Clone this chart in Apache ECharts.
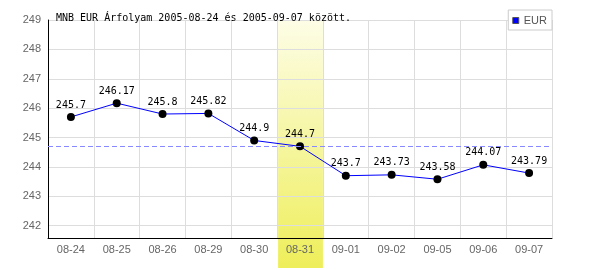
<!DOCTYPE html>
<html>
<head>
<meta charset="utf-8">
<script src="https://cdn.jsdelivr.net/npm/echarts@6/dist/echarts.min.js"></script>
<style>html,body{margin:0;padding:0;background:#fff}#c{width:600px;height:270px}</style>
</head>
<body>
<div id="c"></div>
<script>
const titleText = 'MNB EUR Árfolyam 2005-08-24 és 2005-09-07 között.';
const categories = ['08-24','08-25','08-26','08-29','08-30','08-31','09-01','09-02','09-05','09-06','09-07'];
const eurValues = [245.7, 246.17, 245.8, 245.82, 244.9, 244.7, 243.7, 243.73, 243.58, 244.07, 243.79];
const yTicks = [242, 243, 244, 245, 246, 247, 248, 249];
const refLineValue = 244.7;
const highlightCategory = '08-31';
const yMin = 241.58, yMax = 249;

const chart = echarts.init(document.getElementById('c'), null, {renderer: 'canvas'});
const option = {
  animation: false,
  backgroundColor: '#fff',
  title: {
    text: titleText, left: 51, top: 8,
    textStyle: {fontFamily: 'DejaVu Sans Mono', fontSize: 10, fontWeight: 'normal', color: '#000'}
  },
  legend: {
    data: [{name: 'EUR', icon: 'rect'}],
    right: 48, top: 10,
    backgroundColor: '#fff', borderColor: '#ccc', borderWidth: 1,
    padding: [5, 5, 4, 4],
    itemWidth: 6, itemHeight: 6, itemGap: 2,
    itemStyle: {color: '#0000ff', borderColor: '#555', borderWidth: 1},
    textStyle: {fontFamily: 'Liberation Sans', fontSize: 11, color: '#555'}
  },
  grid: {left: 48, right: 48, top: 20, bottom: 32, containLabel: false},
  xAxis: {
    type: 'category', data: categories, boundaryGap: true,
    axisLine: {lineStyle: {color: '#000', width: 1}},
    axisTick: {show: false},
    axisLabel: {fontFamily: 'Liberation Sans', fontSize: 11, color: '#666', margin: 6},
    splitLine: {show: true, lineStyle: {color: '#ddd', width: 1}}
  },
  yAxis: {
    type: 'value', min: yMin, max: yMax,
    axisLine: {show: true, lineStyle: {color: '#000', width: 1}},
    axisTick: {show: false, customValues: yTicks},
    axisLabel: {customValues: yTicks, fontFamily: 'Liberation Sans', fontSize: 11, color: '#666', margin: 7, padding: [4,0,0,0]},
    splitLine: {show: true, lineStyle: {color: '#ddd', width: 1}}
  },
  series: [{
    name: 'EUR', type: 'line', data: eurValues,
    symbol: 'circle', symbolSize: 8,
    itemStyle: {color: '#000'},
    lineStyle: {color: '#0000ff', width: 1},
    label: {show: true, position: 'top', distance: 3, color: '#000', fontFamily: 'DejaVu Sans Mono', fontSize: 10},
    markLine: {
      silent: true, symbol: 'none',
      label: {show: false},
      lineStyle: {color: '#8888ff', type: [5, 3], width: 1},
      data: [{yAxis: refLineValue}]
    },
    z: 3
  }]
};
chart.setOption(option);

// highlight band for the selected category, computed from the axis scales
const idx = categories.indexOf(highlightCategory);
const cx = chart.convertToPixel({xAxisIndex: 0}, highlightCategory);
const cx2 = chart.convertToPixel({xAxisIndex: 0}, categories[idx + 1]);
const half = (cx2 - cx) / 2;
const yTop = chart.convertToPixel({yAxisIndex: 0}, yMax) + 1;
const yBot = chart.convertToPixel({yAxisIndex: 0}, yMin) + 30;
chart.setOption({
  graphic: [{
    type: 'rect', z: -10, silent: true,
    shape: {x: cx - half + 1, y: yTop, width: 2 * half - 1, height: yBot - yTop},
    style: {fill: new echarts.graphic.LinearGradient(0, 0, 0, 1, [
      {offset: 0, color: '#fdfde6'}, {offset: 1, color: '#eeee5a'}
    ])}
  }]
});
</script>
</body>
</html>
